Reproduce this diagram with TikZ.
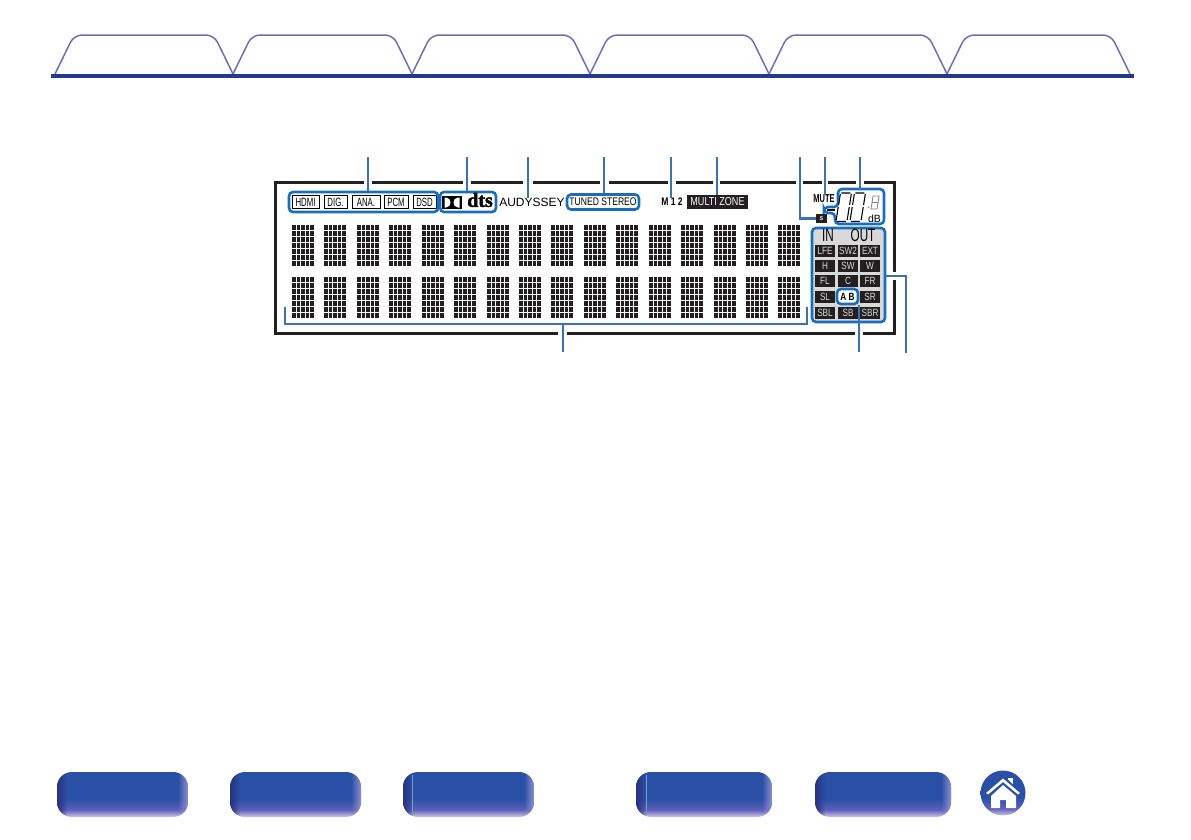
\documentclass[tikz,border=0pt]{standalone}
\usepackage{fontspec}
\usetikzlibrary{calc,fadings}
\newfontfamily\lcdfont[FakeStretch=0.78]{Liberation Sans}
\newfontfamily\tallfont[FakeStretch=0.65]{Liberation Sans}
\newfontfamily\dtsfont[BoldFont={Liberation Serif Bold},BoldFeatures={FakeBold=2}]{Liberation Serif}
\setsansfont{Liberation Sans}
\definecolor{navyline}{RGB}{35,58,140}
\definecolor{tabline}{RGB}{112,108,182}
\definecolor{leaderblue}{RGB}{62,112,180}
\definecolor{boxblue}{RGB}{24,110,186}
\definecolor{framegray}{RGB}{35,31,32}
\definecolor{panelgray}{RGB}{216,216,216}
\definecolor{btnlow}{RGB}{205,200,235}
\definecolor{btnmid}{RGB}{95,95,185}
\definecolor{btnblue}{RGB}{42,80,165}
\definecolor{btndark}{RGB}{40,50,125}
\pgfdeclareverticalshading{btnshade}{100bp}{color(0bp)=(btnlow); color(25bp)=(btnlow); color(33bp)=(btnmid); color(45bp)=(btnblue); color(75bp)=(btnblue); color(100bp)=(btnblue)}
\tikzset{
  leader/.style={draw=leaderblue, line width=2.8pt},
  bluebox/.style={draw=boxblue, line width=2.6pt, rounded corners=4pt},
  inbtn/.style={draw=black, fill=white, line width=.7pt, inner sep=0pt, minimum height=13pt, font=\tallfont\fontsize{12}{12}\selectfont},
  cell/.style={fill=framegray, text=panelgray, inner sep=0pt, minimum width=20pt, minimum height=12pt, font=\lcdfont\fontsize{10.5}{10.5}\selectfont},
  lcdtext/.style={inner sep=0pt, font=\lcdfont\fontsize{11}{11}\selectfont},
  navbtn/.style={shading=btnshade},
  seg/.style={line width=1.1pt, black}
}
% one LCD digit, bottom left corner at #1, #2
\newcommand{\lcddigit}[2]{
  \begin{scope}[shift={(#1,#2)}, xslant=0.16]
    \draw[seg] (0,-14) -- (0,-1) (11,-14) -- (11,-1) (1,0.5) -- (10,0.5);
    \draw[seg] (0,-27) -- (0,-16) (11,-27) -- (11,-16) (1,-28) -- (10,-28);
  \end{scope}
}
\begin{document}
\begin{tikzpicture}[x=1pt, y=-1pt]
  \useasboundingbox (0,0) rectangle (1191,839);

  % Coordinates
  \coordinate (T1) at (368,157);
  \coordinate (T2) at (467,157);
  \coordinate (T3) at (528,157);
  \coordinate (T4) at (604,157);
  \coordinate (T5) at (671,157);
  \coordinate (T6) at (717,157);
  \coordinate (T7) at (800,157);
  \coordinate (T8) at (825,157);
  \coordinate (T9) at (860,157);
  \coordinate (T9end) at (860,189);
  \coordinate (B1) at (563,352);
  \coordinate (B2) at (859,352);
  \coordinate (B3) at (906,353);
  \coordinate (BL) at (285,307);
  \coordinate (BR) at (807,307);
  \coordinate (BM) at (563,324);
  \coordinate (PR) at (885,276);

  % Tabs
  \foreach \a/\b in {55/233,233/412,412/590,590/769,769/947,947/1130}
    \draw[tabline, line width=1.5pt, rounded corners=8pt] (\a,74) -- (\a+19,35) -- (\b-19,35) -- (\b,74);
  \fill[navyline] (51,74) rectangle (1134,78);

  % Frame
  \draw[framegray, line width=3pt] (364,182) -- (275,182) -- (275,333) -- (558,333);
  \foreach \a/\b in {372/463,471/523,533/600,609/668,676/713,720/796,803/822,828/856}
    \draw[framegray, line width=3pt] (\a,182) -- (\b,182);
  \draw[framegray, line width=3pt] (864,182) -- (894,182) -- (894,272);
  \draw[framegray, line width=3pt] (894,280) -- (894,333) -- (863,333);
  \draw[framegray, line width=3pt] (567,333) -- (855,333);

  % Dot matrix
  \foreach \cx in {292,324,357,389,422,454,487,519,551,584,616,649,681,714,746,778}
    \foreach \ry in {225,277}
      \foreach \i in {0,...,4}
        \foreach \j in {0,...,6}
          \fill[framegray] (\cx+\i*4.6,\ry+\j*6) rectangle +(3.6,5);

  % Top row
  \node[inbtn, minimum width=27pt] (hdmi) at (305.5,202) {HDMI};
  \node[inbtn, minimum width=23pt] (dig) at (335.5,202) {DIG.};
  \node[inbtn, minimum width=28pt] (ana) at (366,202) {ANA.};
  \node[inbtn, minimum width=24pt] (pcm) at (396,202) {PCM};
  \node[inbtn, minimum width=23pt] (dsd) at (424.5,202) {DSD};
  \node[bluebox, minimum width=149pt, minimum height=20pt, inner sep=0pt] (inputs) at (363.5,202) {};
  \node[bluebox, minimum width=56pt, minimum height=20pt, inner sep=0pt] (codecs) at (468,202) {};

  \fill[black] (442,196) rectangle (462,209);
  \fill[white] (444.5,197.5) -- (446,197.5) .. controls (452,197.5) and (452,207.5) .. (446,207.5) -- (444.5,207.5) -- cycle;
  \fill[white] (459.5,197.5) -- (458,197.5) .. controls (452,197.5) and (452,207.5) .. (458,207.5) -- (459.5,207.5) -- cycle;
  \node[inner sep=0pt, font=\dtsfont\bfseries\fontsize{20}{20}\selectfont] (dts) at (480,200) {dts};
  \node[inner sep=0pt, font=\sffamily\fontsize{12}{12}\selectfont] (audyssey) at (532,202) {AUDYSSEY};
  \node[bluebox, minimum width=72pt, minimum height=15pt, inner sep=0pt, lcdtext] (tuned) at (603,202) {TUNED STEREO};
  \node[lcdtext, font=\lcdfont\bfseries\fontsize{11}{11}\selectfont] (m12) at (672,202) {M 1 2};
  \node[fill=framegray, text=white, minimum width=61pt, minimum height=14pt, inner sep=0pt, lcdtext, font=\lcdfont\fontsize{11.6}{11.6}\selectfont] (multizone) at (717.5,202) {MULTI ZONE};

  % Level read-out
  \node[lcdtext, font=\tallfont\bfseries\fontsize{11.5}{11.5}\selectfont] (mute) at (824,199) {MUTE};
  \draw[bluebox] (838,189) -- (884,189) -- (884,224) -- (835,224) -- (835,213) -- (824,213) -- (824,207) -- (838,207) -- cycle;
  \draw[black, line width=2pt] (827,210) -- (835,210);
  \lcddigit{836}{221}
  \lcddigit{850}{221}
  \begin{scope}[shift={(871,209)}, xslant=0.16, scale=0.5]
    \draw[gray, line width=.8pt] (0,0) rectangle (12,-13) (0,-13) rectangle (12,-26);
  \end{scope}
  \fill[gray] (868.5,207.5) circle (.8pt);
  \node[lcdtext, font=\sffamily\fontsize{10.5}{10.5}\selectfont] (db) at (874.5,218.5) {dB};
  \node[fill=framegray, text=white, minimum width=11pt, minimum height=9pt, inner sep=0pt, font=\sffamily\bfseries\fontsize{5.5}{5.5}\selectfont] (sbox) at (821.5,218.5) {S};

  % Channel panel
  \node[bluebox, fill=panelgray, minimum width=73pt, minimum height=94pt, inner sep=0pt] (panel) at (848.5,275) {};
  \node[lcdtext, font=\tallfont\fontsize{18}{18}\selectfont] (in) at (828,235.5) {IN};
  \node[lcdtext, font=\tallfont\fontsize{18}{18}\selectfont] (out) at (863,235.5) {OUT};
  \foreach \name/\cx/\cy in {LFE/825/251, SW2/848/251, EXT/870/251, H/825/266, SW/848/266, W/870/266, FL/825/281, C/848/281, FR/870/281, SL/825/297, SR/870/297, SBL/825/313, SB/848/313, SBR/870/313}
    \node[cell] (c\name) at (\cx,\cy) {\name};
  \node[bluebox, fill=white, minimum width=21pt, minimum height=15pt, inner sep=0pt, lcdtext, text=black, font=\lcdfont\bfseries\fontsize{10.5}{10.5}\selectfont] (ab) at (847.5,296.5) {A B};

  % Drawing
  \draw[leader] (T1) -- (T1 |- inputs.north);
  \draw[leader] (T2) -- (T2 |- codecs.north);
  \draw[leader] (T3) -- (T3 |- audyssey.north);
  \draw[leader] (T4) -- (T4 |- tuned.north);
  \draw[leader] (T5) -- (T5 |- m12.north);
  \draw[leader] (T6) -- (T6 |- multizone.north);
  \draw[leader] (T7) |- (sbox.west);
  \draw[leader] (T8) -- (T8 |- mute.north);
  \draw[leader] (T9) -- (T9end);
  \draw[leader] (ab.south -| B2) -- (B2);
  \draw[leader] (PR) -| (B3);
  \draw[leader] (BL) |- (BM) -| (BR);
  \draw[leader] (BM) -- (B1);

  % Bottom buttons
  \foreach \a/\b in {57/188,230/361,403/534,636/772,815/951}{
    \begin{scope}
      \clip[rounded corners=15pt] (\a,772) rectangle (\b,817);
      \shade[navbtn] (\a,772) rectangle (\b,817);
      \fill[btndark, path fading=east] (\a,772) rectangle (\a+10,817);
      \fill[btnmid!70!white, path fading=west] (\b-10,772) rectangle (\b,817);
    \end{scope}
  }
  \draw[leaderblue!70, line width=.4pt] (412,775) -- (412,813);
  \draw[leaderblue!70, line width=.4pt] (646,775) -- (646,813);

  % Home
  \shade[shading=btnshade] (1003,793) circle (22.5);
  \fill[white] (1008,778) rectangle (1013,786);
  \fill[btnblue] (1003,775) -- (1024,795) -- (982,795) -- cycle;
  \fill[white] (1003,778.5) -- (1020,793) -- (1018,794.5) -- (1003,782) -- (988,794.5) -- (986,793) -- cycle;
  \fill[white] (1003,785) -- (1016,796) -- (1016,808) -- (1006,808) -- (1006,800) -- (1000,800) -- (1000,808) -- (991,808) -- (991,796) -- cycle;
\end{tikzpicture}
\end{document}
